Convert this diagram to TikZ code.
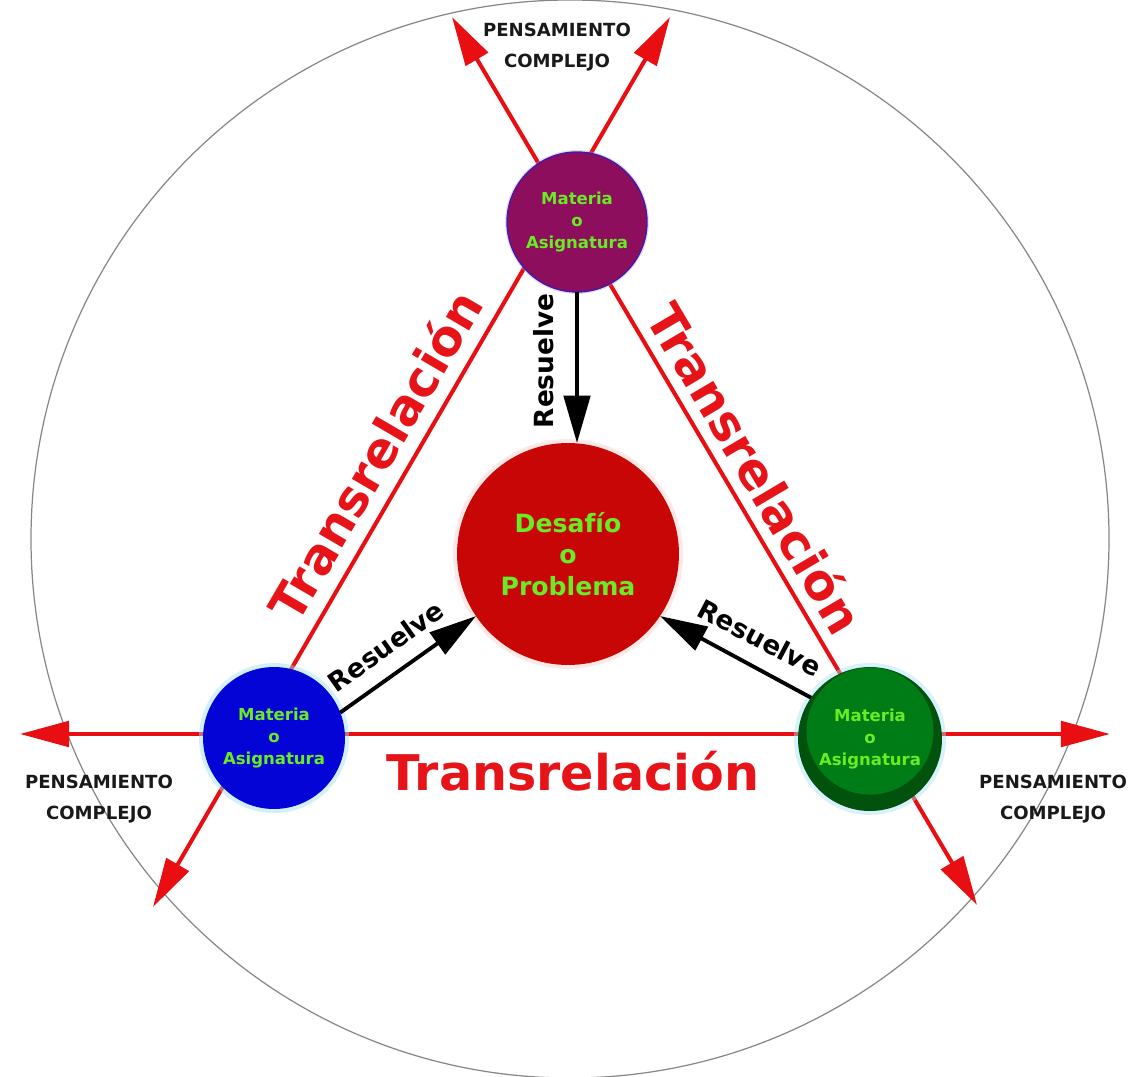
\documentclass[tikz,border=0pt]{standalone}
\usepackage{fontspec}
\setmainfont{DejaVu Sans}
\usetikzlibrary{arrows.meta}
\definecolor{lred}{RGB}{232,14,18}
\definecolor{tred}{RGB}{230,20,24}
\definecolor{ngreen}{RGB}{104,236,36}
\definecolor{purp}{RGB}{140,14,92}
\definecolor{purpedge}{RGB}{70,24,170}
\definecolor{cred}{RGB}{200,6,6}
\definecolor{nblue}{RGB}{4,4,214}
\definecolor{ngrn}{RGB}{0,124,22}
\definecolor{ngrnd}{RGB}{0,82,12}
\definecolor{ringgray}{RGB}{135,135,135}
\begin{document}
\begin{tikzpicture}[x=0.02cm,y=-0.02cm,
  redarrow/.style={draw=lred,line width=2.3pt,{Triangle[length=28pt,width=14.5pt]}-{Triangle[length=28pt,width=14.5pt]}},
  resarrow/.style={draw=black,line width=2.2pt,-{Triangle[length=27pt,width=15pt]}},
  subject/.style={circle,inner sep=0pt,outer sep=0pt,minimum size=2.82cm,text=ngreen,align=center,
    font=\fontsize{9.4}{12.8}\selectfont\bfseries},
  problem/.style={circle,inner sep=0pt,outer sep=0pt,minimum size=4.44cm,fill=cred,text=ngreen,align=center,
    font=\fontsize{14.3}{18}\selectfont\bfseries},
  translabel/.style={text=tred,font=\fontsize{28}{34}\selectfont\bfseries,inner sep=0pt},
  reslabel/.style={text=black,font=\fontsize{15}{18}\selectfont\bfseries,inner sep=0pt},
  pclabel/.style={text=black!90,align=center,font=\fontsize{10.3}{17.6}\selectfont\bfseries,inner sep=0pt}
]
\useasboundingbox (0,0) rectangle (1138,1077);
% outer ring
\draw[ringgray,line width=0.7pt] (570,539) circle[radius=539];

% positions
\coordinate (pT) at (577,222);
\coordinate (pL) at (274,738);
\coordinate (pR) at (870,739);
\coordinate (pC) at (568,554);

% arrow tips of the three long red lines
\coordinate (tipW) at (20,734);
\coordinate (tipE) at (1110,734);
\coordinate (tipSW) at (153,907);
\coordinate (tipNE) at (670,17);
\coordinate (tipNW) at (452,17);
\coordinate (tipSE) at (977,905);

\draw[redarrow] (tipW) -- (tipE);
\draw[redarrow] (tipSW) -- (tipNE);
\draw[redarrow] (tipNW) -- (tipSE);

% halos
\fill[cyan!40,opacity=0.45] (pL) circle[radius=75];
\fill[cyan!35,opacity=0.45] (pR) circle[radius=76];
\fill[red!30,opacity=0.3] (pC) circle[radius=115];
\fill[purpedge!40,opacity=0.35] (pT) circle[radius=72];

% nodes
\node[subject,minimum size=2.8cm,fill=purp,draw=purpedge,line width=0.8pt] (T) at (pT) {Materia\\o\\Asignatura};
\node[subject,minimum size=2.84cm,fill=nblue] (L) at (pL) {Materia\\o\\Asignatura};
\node[subject,minimum size=2.88cm,fill=ngrnd,
  path picture={\fill[ngrn] ([yshift=4.5pt]path picture bounding box.center) circle (1.27cm);}] (R) at (pR) {Materia\\o\\Asignatura};
\node[problem] (C) at (pC) {Desafío\\o\\Problema};

% resuelve arrows
\draw[resarrow] (T.south) -- (T.south |- C.north);
\draw[resarrow] (L.21) -- (C.214);
\draw[resarrow] (R.145) -- (C.326);

% labels
\node[reslabel,rotate=90] (rt) at (544,361) {Resuelve};
\node[reslabel,rotate=35.5] (rl) at (386,646) {Resuelve};
\node[reslabel,rotate=-27.7] (rr) at (760,638) {Resuelve};

\node[translabel,rotate=59.7] (trl) at (375,455) {Transrelación};
\node[translabel,rotate=-59.4] (trr) at (756,468) {Transrelación};
\node[translabel,anchor=base] (trb) at (573,790) {Transrelación};

\node[pclabel] (pcT) at (557,47) {PENSAMIENTO\\COMPLEJO};
\node[pclabel] (pcL) at (99,799) {PENSAMIENTO\\COMPLEJO};
\node[pclabel] (pcR) at (1053,799) {PENSAMIENTO\\COMPLEJO};
\end{tikzpicture}
\end{document}
